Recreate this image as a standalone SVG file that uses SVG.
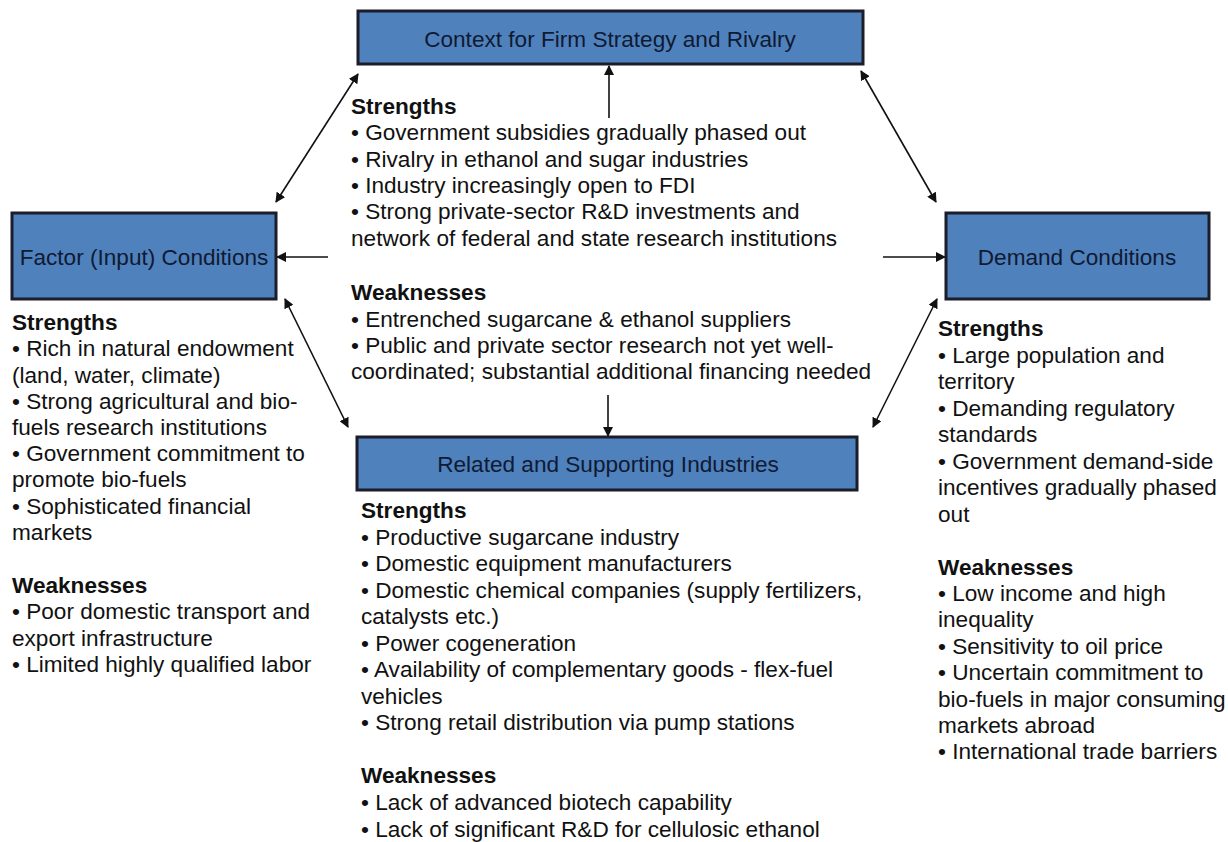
<svg xmlns="http://www.w3.org/2000/svg" width="1228" height="842" viewBox="0 0 1228 842">
<style>
.box{fill:#4f81bd;stroke:#1b1d2b;stroke-width:3}
.lbl{font-family:"Liberation Sans",Arial,sans-serif;font-size:22.6px;fill:#0f1a33;text-anchor:middle}
.t{font-family:"Liberation Sans",Arial,sans-serif;font-size:22.6px;fill:#111}
.h{font-weight:bold}
.c{stroke:#111;stroke-width:1.6;fill:none;marker-end:url(#ah)}
.d{marker-start:url(#ah)}
</style>
<defs>
<marker id="ah" viewBox="0 0 10 10" refX="9" refY="5" markerWidth="10" markerHeight="10" markerUnits="userSpaceOnUse" orient="auto-start-reverse">
<path d="M0,0 L10,5 L0,10 z" fill="#111"/>
</marker>
</defs>
<rect width="1228" height="842" fill="#fff"/>
<g id="connectors">
<line class="c d" x1="276" y1="202" x2="358" y2="74"/>
<line class="c d" x1="861" y1="71" x2="936" y2="202"/>
<line class="c d" x1="285" y1="299" x2="348" y2="427"/>
<line class="c d" x1="937" y1="299" x2="873" y2="427"/>
<line class="c" x1="609" y1="118" x2="609" y2="66"/>
<line class="c" x1="608" y1="395" x2="608" y2="436"/>
<line class="c" x1="328" y1="257" x2="277" y2="257"/>
<line class="c" x1="883" y1="257" x2="945" y2="257"/>
</g>
<g id="context">
<rect class="box" x="358" y="11" width="505" height="53"/>
<text class="lbl" x="610" y="47">Context for Firm Strategy and Rivalry</text>
</g>
<g id="factor">
<rect class="box" x="12" y="213" width="264" height="86"/>
<text class="lbl" x="144" y="265">Factor (Input) Conditions</text>
</g>
<g id="demand">
<rect class="box" x="946" y="213" width="263" height="86"/>
<text class="lbl" x="1077" y="265">Demand Conditions</text>
</g>
<g id="related">
<rect class="box" x="357" y="437" width="500" height="53"/>
<text class="lbl" x="608" y="472">Related and Supporting Industries</text>
</g>
<g id="context-text">
<text x="351" y="114" class="t h">Strengths</text>
<text x="351" y="140" class="t">• Government subsidies gradually phased out</text>
<text x="351" y="167" class="t">• Rivalry in ethanol and sugar industries</text>
<text x="351" y="193" class="t">• Industry increasingly open to FDI</text>
<text x="351" y="219" class="t">• Strong private-sector R&amp;D investments and</text>
<text x="351" y="246" class="t">network of federal and state research institutions</text>
<text x="351" y="300" class="t h">Weaknesses</text>
<text x="351" y="327" class="t">• Entrenched sugarcane &amp; ethanol suppliers</text>
<text x="351" y="353" class="t">• Public and private sector research not yet well-</text>
<text x="351" y="379" class="t">coordinated; substantial additional financing needed</text>
</g>
<g id="factor-text">
<text x="12" y="330" class="t h">Strengths</text>
<text x="12" y="356" class="t">• Rich in natural endowment</text>
<text x="12" y="383" class="t">(land, water, climate)</text>
<text x="12" y="409" class="t">• Strong agricultural and bio-</text>
<text x="12" y="435" class="t">fuels research institutions</text>
<text x="12" y="461" class="t">• Government commitment to</text>
<text x="12" y="487" class="t">promote bio-fuels</text>
<text x="12" y="514" class="t">• Sophisticated financial</text>
<text x="12" y="540" class="t">markets</text>
<text x="12" y="593" class="t h">Weaknesses</text>
<text x="12" y="619" class="t">• Poor domestic transport and</text>
<text x="12" y="646" class="t">export infrastructure</text>
<text x="12" y="672" class="t">• Limited highly qualified labor</text>
</g>
<g id="demand-text">
<text x="938" y="336" class="t h">Strengths</text>
<text x="938" y="363" class="t">• Large population and</text>
<text x="938" y="389" class="t">territory</text>
<text x="938" y="416" class="t">• Demanding regulatory</text>
<text x="938" y="442" class="t">standards</text>
<text x="938" y="469" class="t">• Government demand-side</text>
<text x="938" y="495" class="t">incentives gradually phased</text>
<text x="938" y="522" class="t">out</text>
<text x="938" y="575" class="t h">Weaknesses</text>
<text x="938" y="601" class="t">• Low income and high</text>
<text x="938" y="627" class="t">inequality</text>
<text x="938" y="654" class="t">• Sensitivity to oil price</text>
<text x="938" y="680" class="t">• Uncertain commitment to</text>
<text x="938" y="707" class="t">bio-fuels in major consuming</text>
<text x="938" y="733" class="t">markets abroad</text>
<text x="938" y="759" class="t">• International trade barriers</text>
</g>
<g id="related-text">
<text x="361" y="518" class="t h">Strengths</text>
<text x="361" y="545" class="t">• Productive sugarcane industry</text>
<text x="361" y="571" class="t">• Domestic equipment manufacturers</text>
<text x="361" y="598" class="t">• Domestic chemical companies (supply fertilizers,</text>
<text x="361" y="624" class="t">catalysts etc.)</text>
<text x="361" y="651" class="t">• Power cogeneration</text>
<text x="361" y="677" class="t">• Availability of complementary goods - flex-fuel</text>
<text x="361" y="704" class="t">vehicles</text>
<text x="361" y="730" class="t">• Strong retail distribution via pump stations</text>
<text x="361" y="783" class="t h">Weaknesses</text>
<text x="361" y="810" class="t">• Lack of advanced biotech capability</text>
<text x="361" y="837" class="t">• Lack of significant R&amp;D for cellulosic ethanol</text>
</g>
</svg>
